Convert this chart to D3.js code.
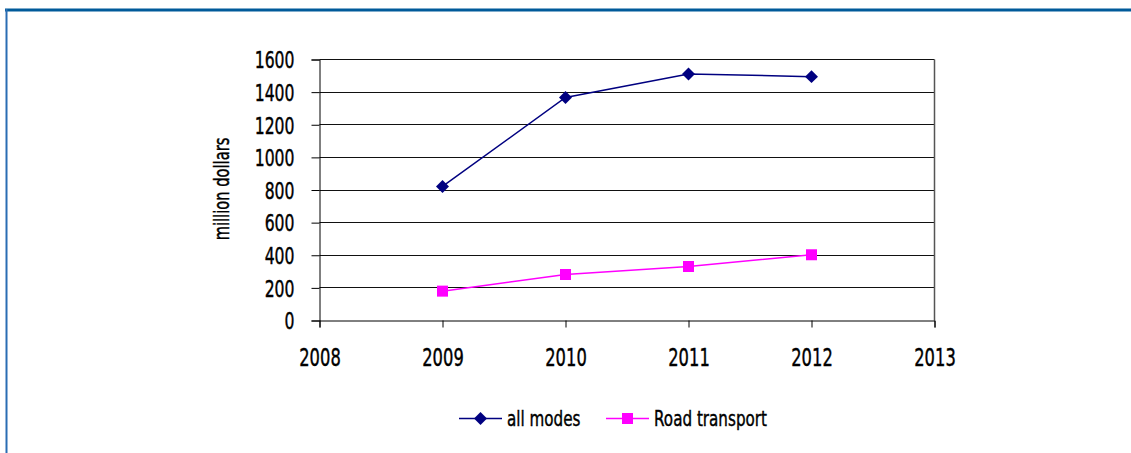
<!DOCTYPE html>
<html>
<head>
<meta charset="utf-8">
<script src="https://cdn.jsdelivr.net/npm/d3@7"></script>
<style>
  html, body { margin: 0; padding: 0; background: #fff; }
  svg { display: block; }
  text { font-family: "DejaVu Sans", sans-serif; fill: #000; stroke: #000; stroke-width: 0.45px; }
</style>
</head>
<body>
<svg width="1131" height="453"></svg>
<script>
const years = [2009, 2010, 2011, 2012];
const allModes = [822, 1367, 1511, 1495];
const roadTransport = [180, 282, 331, 403];
const xTicks = [2008, 2009, 2010, 2011, 2012, 2013];
const yTicks = [0, 200, 400, 600, 800, 1000, 1200, 1400, 1600];

const series = [
  { name: 'all modes', values: allModes, color: '#000080', shape: 'diamond' },
  { name: 'Road transport', values: roadTransport, color: '#ff00ff', shape: 'square' }
];

const svg = d3.select('svg');
const width = +svg.attr('width');
const height = +svg.attr('height');

// labels use a tall, narrow face: squeeze the glyphs horizontally
const squeeze = (sel, k = 0.68) => {
  sel.each(function() {
    const t = d3.select(this);
    const x = +(t.attr('x') || 0);
    t.attr('x', x / k).attr('transform', `scale(${k}, 1)`);
  });
};

// frame round the figure: top and left edges only
svg.append('line')
  .attr('x1', 5).attr('x2', width).attr('y1', 10).attr('y2', 10)
  .attr('stroke', '#005a9a').attr('stroke-width', 3);
svg.append('line')
  .attr('x1', 6.5).attr('x2', 6.5).attr('y1', 9).attr('y2', height)
  .attr('stroke', '#2a6db3').attr('stroke-width', 2);

const margin = { top: 59.5, left: 319.5 };
const innerWidth = 615;
const innerHeight = 261;

const xScale = d3.scaleLinear().domain([2008, 2013]).range([0, innerWidth]);
const yScale = d3.scaleLinear().domain([0, 1600]).range([innerHeight, 0]);

const g = svg.append('g')
  .attr('transform', `translate(${margin.left}, ${margin.top})`);

// horizontal gridlines
g.selectAll('.grid').data(yTicks.filter(d => d > 0)).enter()
  .append('line')
    .attr('class', 'grid')
    .attr('x1', 0).attr('x2', innerWidth)
    .attr('y1', d => Math.round(yScale(d))).attr('y2', d => Math.round(yScale(d)))
    .attr('stroke', '#111').attr('stroke-width', 1);

// right edge of plot area
g.append('line')
  .attr('x1', innerWidth).attr('x2', innerWidth)
  .attr('y1', 0).attr('y2', innerHeight)
  .attr('stroke', '#555').attr('stroke-width', 1.5);

// y axis
const yAxisG = g.append('g')
  .call(d3.axisLeft(yScale).tickValues(yTicks).tickSize(8).tickPadding(17).tickFormat(d3.format('d')));
yAxisG.attr('font-family', null).attr('font-size', null);
yAxisG.selectAll('.domain').attr('stroke', '#000');
yAxisG.selectAll('.tick line').attr('stroke', '#000');
yAxisG.selectAll('.tick text')
  .attr('font-size', 23)
  .attr('dy', '0.36em')
  .call(squeeze);

// x axis
const xAxisG = g.append('g')
  .attr('transform', `translate(0, ${innerHeight})`)
  .call(d3.axisBottom(xScale).tickValues(xTicks).tickSize(7).tickPadding(21).tickFormat(d3.format('d')));
xAxisG.attr('font-family', null).attr('font-size', null);
xAxisG.selectAll('.domain').attr('stroke', '#000');
xAxisG.selectAll('.tick line').attr('stroke', '#000');
xAxisG.selectAll('.tick text')
  .attr('font-size', 24)
  .call(squeeze);

// axis title (rotated, so squeeze along its own length)
svg.append('text')
  .attr('transform', 'translate(229, 189) rotate(-90) scale(0.7, 1)')
  .attr('text-anchor', 'middle')
  .attr('font-size', 21)
  .text('million dollars');

const line = d3.line()
  .x((d, i) => xScale(years[i]))
  .y(d => yScale(d));

const drawMarker = (sel, shape, color, x, y) => {
  if (shape === 'diamond') {
    sel.append('path')
      .attr('d', d3.symbol(d3.symbolSquare, 84)())
      .attr('transform', `translate(${x}, ${y}) rotate(45)`)
      .attr('fill', color);
  } else {
    sel.append('rect')
      .attr('x', x - 5.5).attr('y', y - 5.5)
      .attr('width', 11).attr('height', 11)
      .attr('fill', color);
  }
};

series.forEach(s => {
  g.append('path')
    .datum(s.values)
    .attr('d', line)
    .attr('fill', 'none')
    .attr('stroke', s.color)
    .attr('stroke-width', 1.5);
  s.values.forEach((v, i) => drawMarker(g, s.shape, s.color, xScale(years[i]), yScale(v)));
});

// legend
const legend = svg.append('g').attr('transform', 'translate(459, 418.5)');
const legendX = [0, 147];
series.forEach((s, i) => {
  const lg = legend.append('g').attr('transform', `translate(${legendX[i]}, 0)`);
  lg.append('line')
    .attr('x1', 0).attr('x2', 43).attr('y1', 0).attr('y2', 0)
    .attr('stroke', s.color).attr('stroke-width', 1.5);
  drawMarker(lg, s.shape, s.color, 21.5, 0);
  lg.append('text')
    .attr('x', 48).attr('y', 0).attr('dy', '0.36em')
    .attr('font-size', 22)
    .text(s.name)
    .call(squeeze, 0.69);
});
</script>
</body>
</html>
